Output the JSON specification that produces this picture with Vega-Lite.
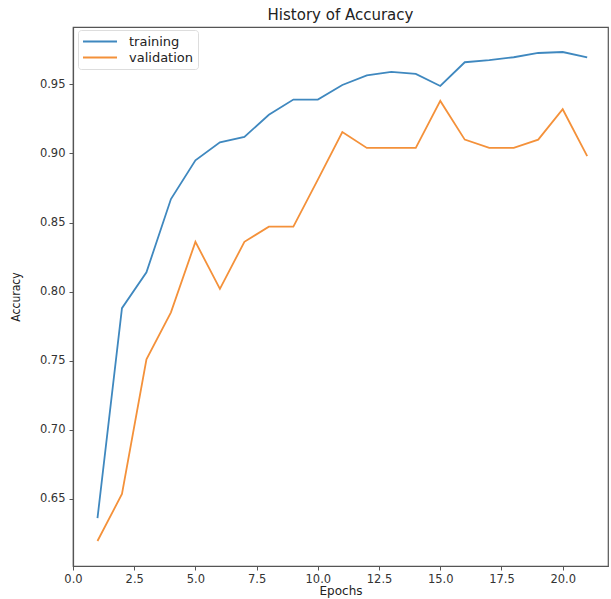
{
  "$schema": "https://vega.github.io/schema/vega-lite/v6.json",
  "width": 535,
  "height": 539,
  "autosize": {"type": "none"},
  "padding": {"left": 73, "top": 27, "right": 3, "bottom": 33},
  "background": "white",
  "title": {
    "text": "History of Accuracy",
    "anchor": "middle",
    "font": "DejaVu Sans",
    "fontSize": 15,
    "fontWeight": "normal",
    "color": "#222",
    "offset": 4
  },
  "config": {
    "view": {"stroke": "#555", "strokeWidth": 1.2},
    "axis": {
      "grid": false,
      "domainColor": "#555",
      "domainWidth": 1.2,
      "tickColor": "#555",
      "tickSize": 4,
      "labelFlush": false,
      "labelFont": "DejaVu Sans",
      "labelFontSize": 11.5,
      "labelColor": "#333",
      "titleFont": "DejaVu Sans",
      "titleFontSize": 12,
      "titleFontWeight": "normal",
      "titleColor": "#222"
    }
  },
  "data": {
    "values": [
      {"epoch": 1, "series": "training", "accuracy": 0.636},
      {"epoch": 2, "series": "training", "accuracy": 0.788},
      {"epoch": 3, "series": "training", "accuracy": 0.814},
      {"epoch": 4, "series": "training", "accuracy": 0.867},
      {"epoch": 5, "series": "training", "accuracy": 0.895},
      {"epoch": 6, "series": "training", "accuracy": 0.908},
      {"epoch": 7, "series": "training", "accuracy": 0.912},
      {"epoch": 8, "series": "training", "accuracy": 0.928},
      {"epoch": 9, "series": "training", "accuracy": 0.939},
      {"epoch": 10, "series": "training", "accuracy": 0.939},
      {"epoch": 11, "series": "training", "accuracy": 0.9495},
      {"epoch": 12, "series": "training", "accuracy": 0.9565},
      {"epoch": 13, "series": "training", "accuracy": 0.959},
      {"epoch": 14, "series": "training", "accuracy": 0.9575},
      {"epoch": 15, "series": "training", "accuracy": 0.9488},
      {"epoch": 16, "series": "training", "accuracy": 0.966},
      {"epoch": 17, "series": "training", "accuracy": 0.9676},
      {"epoch": 18, "series": "training", "accuracy": 0.9696},
      {"epoch": 19, "series": "training", "accuracy": 0.9727},
      {"epoch": 20, "series": "training", "accuracy": 0.9734},
      {"epoch": 21, "series": "training", "accuracy": 0.9696},
      {"epoch": 1, "series": "validation", "accuracy": 0.6195},
      {"epoch": 2, "series": "validation", "accuracy": 0.6535},
      {"epoch": 3, "series": "validation", "accuracy": 0.751},
      {"epoch": 4, "series": "validation", "accuracy": 0.785},
      {"epoch": 5, "series": "validation", "accuracy": 0.836},
      {"epoch": 6, "series": "validation", "accuracy": 0.802},
      {"epoch": 7, "series": "validation", "accuracy": 0.836},
      {"epoch": 8, "series": "validation", "accuracy": 0.847},
      {"epoch": 9, "series": "validation", "accuracy": 0.847},
      {"epoch": 10, "series": "validation", "accuracy": 0.881},
      {"epoch": 11, "series": "validation", "accuracy": 0.9155},
      {"epoch": 12, "series": "validation", "accuracy": 0.904},
      {"epoch": 13, "series": "validation", "accuracy": 0.904},
      {"epoch": 14, "series": "validation", "accuracy": 0.904},
      {"epoch": 15, "series": "validation", "accuracy": 0.938},
      {"epoch": 16, "series": "validation", "accuracy": 0.910},
      {"epoch": 17, "series": "validation", "accuracy": 0.904},
      {"epoch": 18, "series": "validation", "accuracy": 0.904},
      {"epoch": 19, "series": "validation", "accuracy": 0.910},
      {"epoch": 20, "series": "validation", "accuracy": 0.932},
      {"epoch": 21, "series": "validation", "accuracy": 0.898}
    ]
  },
  "mark": {"type": "line", "strokeWidth": 1.8, "clip": true},
  "encoding": {
    "x": {
      "field": "epoch",
      "type": "quantitative",
      "title": "Epochs",
      "scale": {"domain": [0, 21.85], "nice": false, "zero": false},
      "axis": {
        "values": [0, 2.5, 5, 7.5, 10, 12.5, 15, 17.5, 20],
        "format": ".1f",
        "labelPadding": 3,
        "titlePadding": 1
      }
    },
    "y": {
      "field": "accuracy",
      "type": "quantitative",
      "title": "Accuracy",
      "scale": {"domain": [0.6014, 0.9915], "nice": false, "zero": false},
      "axis": {
        "values": [0.65, 0.7, 0.75, 0.8, 0.85, 0.9, 0.95],
        "format": ".2f",
        "labelPadding": 4,
        "titleFont": "Liberation Sans Narrow, DejaVu Sans Condensed, DejaVu Sans",
        "titleFontSize": 12,
        "titlePadding": 17
      }
    },
    "color": {
      "field": "series",
      "type": "nominal",
      "title": null,
      "scale": {"domain": ["training", "validation"], "range": ["#3f88bf", "#f4913a"]},
      "legend": {
        "orient": "none",
        "legendX": 5,
        "legendY": 3,
        "symbolType": "stroke",
        "symbolSize": 1156,
        "symbolStrokeWidth": 2,
        "clipHeight": 15,
        "labelFont": "DejaVu Sans",
        "labelFontSize": 13,
        "labelColor": "#222",
        "labelOffset": 11,
        "rowPadding": 1,
        "padding": 4,
        "fillColor": "white",
        "strokeColor": "#ddd",
        "cornerRadius": 3
      }
    }
  }
}
